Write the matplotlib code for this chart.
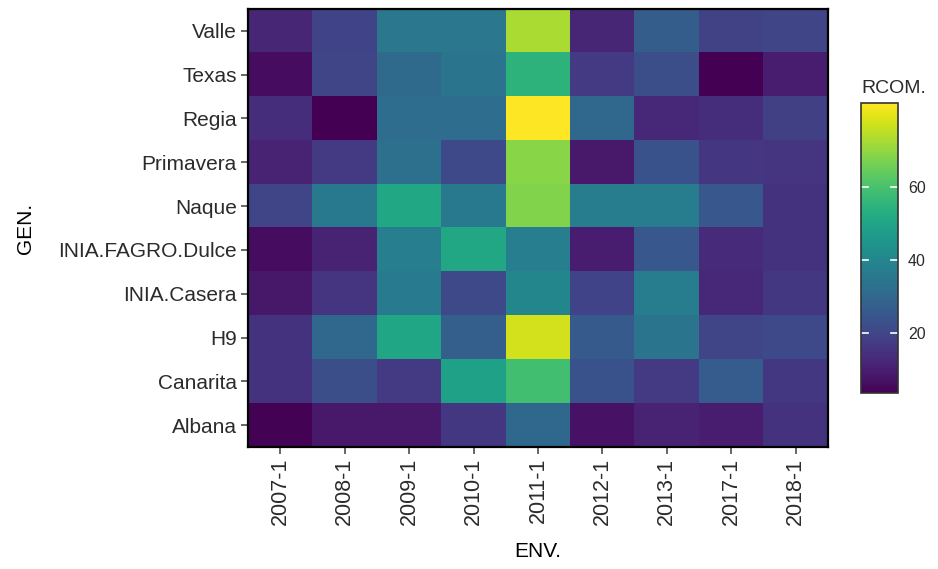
import numpy as np
import matplotlib.pyplot as plt

plt.rcParams['font.family'] = ['Liberation Sans', 'DejaVu Sans']

# genotypes listed top to bottom, environments left to right
gen = ['Valle', 'Texas', 'Regia', 'Primavera', 'Naque', 'INIA.FAGRO.Dulce',
       'INIA.Casera', 'H9', 'Canarita', 'Albana']
env = ['2007-1', '2008-1', '2009-1', '2010-1', '2011-1', '2012-1', '2013-1',
       '2017-1', '2018-1']

valle = [12, 19.5, 35, 35, 73, 12, 27, 19, 20]
texas = [6, 20, 31, 34, 55, 17, 22.5, 3.5, 10]
regia = [14, 3.5, 32, 32, 83, 30.5, 12.5, 14, 18.5]
primavera = [11.5, 17, 33, 21, 69, 9, 23.5, 16, 15.5]
naque = [20, 35.5, 51, 35.5, 68, 37, 37, 25, 15]
fagro_dulce = [6, 11.5, 37.5, 51, 37.5, 10, 25, 13, 15]
casera = [8.5, 15.5, 36, 21, 40, 19.5, 37, 12.5, 16.5]
h9 = [15, 30, 50.5, 27.5, 77.5, 26, 34, 20, 21]
canarita = [15, 22.5, 17, 49, 59, 23.5, 17, 26.5, 16.5]
albana = [4, 9, 9, 16.5, 30.5, 7.5, 11.5, 10, 15]

rcom = np.array([valle, texas, regia, primavera, naque, fagro_dulce, casera,
                 h9, canarita, albana])

fig = plt.figure(figsize=(9.38, 5.69), dpi=100)
ax = fig.add_axes([0.2644, 0.2144, 0.6183, 0.7698])
cax = fig.add_axes([0.918, 0.309, 0.0394, 0.5097])

im = ax.imshow(rcom, cmap='viridis', aspect='auto', vmin=3.5, vmax=83,
               interpolation='nearest')

ax.set_xticks(range(len(env)))
ax.set_xticklabels(env, rotation=90, fontsize=15.5, color='#2b2b2b')
ax.set_yticks(range(len(gen)))
ax.set_yticklabels(gen, fontsize=15, color='#2b2b2b')
ax.tick_params(length=5, width=1.2, color='#4d4d4d', pad=3)
for s in ax.spines.values():
    s.set_linewidth(1.6)
    s.set_color('black')

ax.set_xlabel('ENV.', fontsize=15, labelpad=12)
ax.set_ylabel('GEN.', fontsize=15, labelpad=17)

cb = fig.colorbar(im, cax=cax)
cb.set_ticks([20, 40, 60])
cb.ax.tick_params(labelsize=11.5, labelcolor='#2b2b2b', length=0, pad=7)
for t in [20, 40, 60]:
    cb.ax.plot([0, 0.2], [t, t], color='white', lw=1.2, transform=cb.ax.get_yaxis_transform())
    cb.ax.plot([0.8, 1], [t, t], color='white', lw=1.2, transform=cb.ax.get_yaxis_transform())
cb.outline.set_linewidth(1.2)
cb.outline.set_edgecolor('#333333')
fig.text(0.918, 0.83, 'RCOM.', fontsize=14, ha='left', va='bottom', color='#2b2b2b')

fig.savefig('out.png', dpi=100)
